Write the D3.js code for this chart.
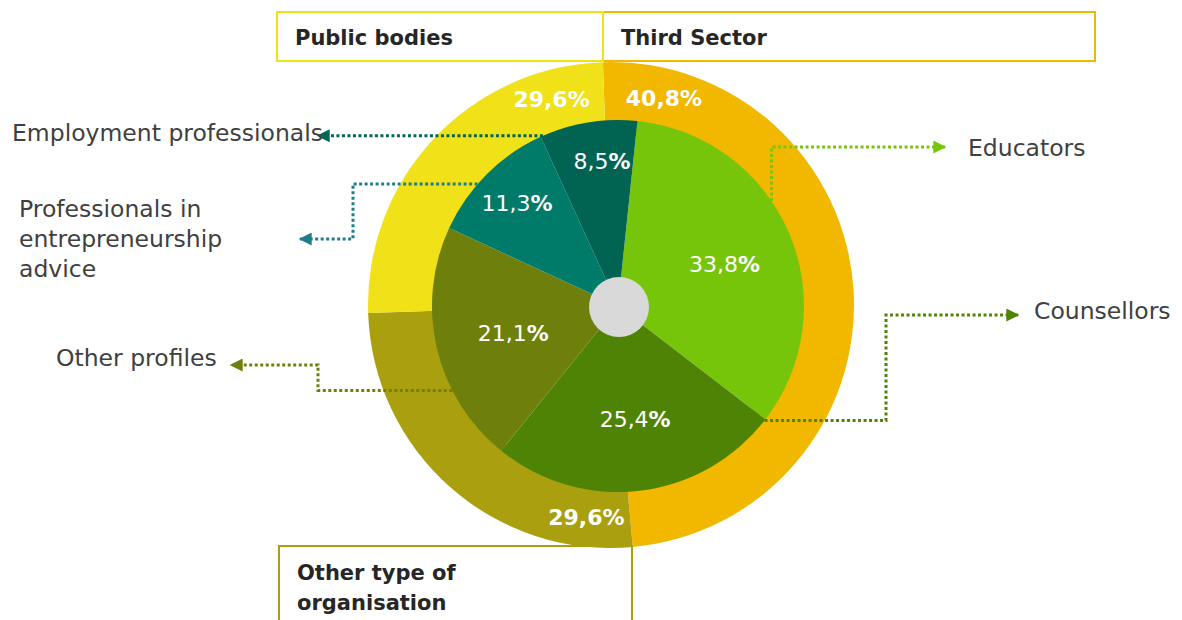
<!DOCTYPE html>
<html>
<head>
<meta charset="utf-8">
<script src="https://cdn.jsdelivr.net/npm/d3@7"></script>
<style>
body { margin: 0; background: #fff; }
svg { display: block; }
</style>
</head>
<body>
<script>
//************************************************************
// Data
//************************************************************
// outer ring: type of organisation, clockwise from 12 o'clock
var sectors = ['Third Sector', 'Other type of organisation', 'Public bodies'];
var sectorValues = [40.8, 29.6, 29.6];
// the source ring is not drawn to scale, these are the shares as drawn
var sectorDrawn = [49.1, 25.9, 25.0];
var sectorColors = ['#f2b800', '#a99f0f', '#f0e119'];

// inner pie: profiles, clockwise
var profiles = ['Educators', 'Counsellors', 'Other profiles', 'Professionals in\nentrepreneurship\nadvice', 'Employment professionals'];
var profileValues = [33.8, 25.4, 21.1, 11.3, 8.5];
var profileColors = ['#76c50b', '#4e8306', '#6e800b', '#007b69', '#016452'];
var leaderColors = ['#76c50b', '#4e8306', '#6e800b', '#1f7e89', '#00665a'];

//************************************************************
// Layout
//************************************************************
const width = 1182, height = 620;
const deg = Math.PI / 180;
const ring = { cx: 611, cy: 305, r0: 175, r1: 243, start: -1.9 };
const pieC = { cx: 618, cy: 306, r: 186, hole: 30, start: 6 };

// leader lines: start angle on the pie edge, then h/v steps, then label position
const leaders = [
	{ a: 55.6, steps: [['v', 147], ['h', 945]], tx: 968, ty: 156 },
	{ a: 128, steps: [['h', 886], ['v', 315], ['h', 1018]], tx: 1034, ty: 319 },
	{ a: 243, steps: [['h', 318], ['v', 365], ['h', 231]], tx: 56, ty: 366 },
	{ a: 311, steps: [['h', 353], ['v', 239], ['h', 300]], tx: 19, ty: 217 },
	{ a: 336.2, steps: [['h', 318]], tx: 12, ty: 141 }
];
// where each ring percentage sits relative to its segment
const ringLabelPos = [
	{ at: 'start', off: 6, anchor: 'start', r: 207 },
	{ at: 'start', off: 1.5, anchor: 'end', r: 213 },
	{ at: 'end', off: -4, anchor: 'end', r: 207 }
];

const fmt = function (v) { return d3.format('.1f')(v).replace('.', ','); };

const svg = d3.select('body').append('svg')
	.attr('width', width)
	.attr('height', height)
	.style('font-family', 'DejaVu Sans, sans-serif');

//************************************************************
// Outer ring
//************************************************************
const ringPie = d3.pie().sort(null).value(function (d) { return d; })
	.startAngle(ring.start * deg)
	.endAngle(ring.start * deg + 2 * Math.PI);
const ringArc = d3.arc().innerRadius(ring.r0).outerRadius(ring.r1);
const ringData = ringPie(sectorDrawn);

const gRing = svg.append('g')
	.attr('transform', 'translate(' + ring.cx + ',' + ring.cy + ')');

gRing.selectAll('path')
	.data(ringData)
	.enter()
	.append('path')
	.attr('d', ringArc)
	.attr('fill', function (d, i) { return sectorColors[i]; });

//************************************************************
// Inner pie
//************************************************************
const innerPie = d3.pie().sort(null).value(function (d) { return d; })
	.startAngle(pieC.start * deg)
	.endAngle(pieC.start * deg + 2 * Math.PI);
const innerArc = d3.arc().innerRadius(0).outerRadius(pieC.r);
const pieData = innerPie(profileValues);

const gPie = svg.append('g')
	.attr('transform', 'translate(' + pieC.cx + ',' + pieC.cy + ')');

gPie.selectAll('path')
	.data(pieData)
	.enter()
	.append('path')
	.attr('d', innerArc)
	.attr('fill', function (d, i) { return profileColors[i]; });

gPie.append('circle')
	.attr('cx', 1)
	.attr('cy', 1)
	.attr('r', pieC.hole)
	.attr('fill', '#d9d9d9');

// percentages in the pie, small slices get pushed outwards
const pieLabels = gPie.selectAll('.plabel')
	.data(pieData)
	.enter()
	.append('text')
	.attr('class', 'plabel')
	.attr('transform', function (d) {
		var r = d.data < 15 ? 0.8 * pieC.r : 0.6 * pieC.r;
		var c = d3.arc().innerRadius(r).outerRadius(r).centroid(d);
		return 'translate(' + (c[0] + (d.data < 10 ? 8 : 4)) + ',' + (c[1] + 2) + ')';
	})
	.attr('text-anchor', 'middle')
	.attr('dominant-baseline', 'central')
	.attr('fill', '#fff')
	.style('font-size', '22px');
pieLabels.append('tspan').text(function (d) { return fmt(d.data); });
pieLabels.append('tspan').attr('font-weight', 'bold').text('%');

// percentages on the ring
gRing.selectAll('.rlabel')
	.data(ringData)
	.enter()
	.append('text')
	.attr('class', 'rlabel')
	.attr('transform', function (d, i) {
		var p = ringLabelPos[i];
		var a = (p.at === 'start' ? d.startAngle : d.endAngle) + p.off * deg;
		return 'translate(' + (p.r * Math.sin(a)) + ',' + (-p.r * Math.cos(a)) + ')';
	})
	.attr('text-anchor', function (d, i) { return ringLabelPos[i].anchor; })
	.attr('dominant-baseline', 'central')
	.attr('fill', '#fff')
	.attr('font-weight', 'bold')
	.style('font-size', '22px')
	.text(function (d, i) { return fmt(sectorValues[i]) + '%'; });

//************************************************************
// Leader lines and profile names
//************************************************************
const defs = svg.append('defs');
leaderColors.forEach(function (c, i) {
	defs.append('marker')
		.attr('id', 'arrow' + i)
		.attr('viewBox', '0 0 10 10')
		.attr('refX', 9)
		.attr('refY', 5)
		.attr('markerUnits', 'userSpaceOnUse')
		.attr('markerWidth', 15)
		.attr('markerHeight', 13)
		.attr('orient', 'auto')
		.append('path')
		.attr('d', 'M0,0L10,5L0,10z')
		.attr('fill', c);
});

leaders.forEach(function (l, i) {
	var x = pieC.cx + pieC.r * Math.sin(l.a * deg);
	var y = pieC.cy - pieC.r * Math.cos(l.a * deg);
	var pts = [[x, y]];
	l.steps.forEach(function (s) {
		if (s[0] === 'h') x = s[1]; else y = s[1];
		pts.push([x, y]);
	});
	svg.append('path')
		.attr('d', d3.line()(pts))
		.attr('fill', 'none')
		.attr('stroke', leaderColors[i])
		.attr('stroke-width', 3)
		.attr('stroke-dasharray', '3 2.5')
		.attr('marker-end', 'url(#arrow' + i + ')');

	var t = svg.append('text')
		.attr('x', l.tx)
		.attr('y', l.ty)
		.attr('fill', '#404040')
		.style('font-size', '23.5px');
	profiles[i].split('\n').forEach(function (line, k) {
		t.append('tspan')
			.attr('x', l.tx)
			.attr('dy', k === 0 ? 0 : 30)
			.text(line);
	});
});

//************************************************************
// Sector boxes
//************************************************************
svg.append('rect')
	.attr('x', 603).attr('y', 12).attr('width', 492).attr('height', 49)
	.attr('fill', 'none').attr('stroke', sectorColors[0]).attr('stroke-width', 2);
svg.append('rect')
	.attr('x', 277).attr('y', 12).attr('width', 326).attr('height', 49)
	.attr('fill', 'none').attr('stroke', sectorColors[2]).attr('stroke-width', 2);
svg.append('rect')
	.attr('x', 279).attr('y', 546).attr('width', 353).attr('height', 100)
	.attr('fill', 'none').attr('stroke', sectorColors[1]).attr('stroke-width', 2);

const boxText = [
	{ x: 295, y: 45, lines: [sectors[2]] },
	{ x: 621, y: 45, lines: [sectors[0]] },
	{ x: 297, y: 580, lines: ['Other type of', 'organisation'] }
];
boxText.forEach(function (b) {
	var t = svg.append('text')
		.attr('x', b.x).attr('y', b.y)
		.attr('fill', '#262626')
		.attr('font-weight', 'bold')
		.style('font-size', '21px');
	b.lines.forEach(function (line, k) {
		t.append('tspan').attr('x', b.x).attr('dy', k === 0 ? 0 : 30).text(line);
	});
});
</script>
</body>
</html>
